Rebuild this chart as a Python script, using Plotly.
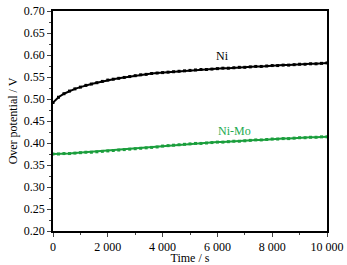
import plotly.graph_objects as go

time_s = list(range(0, 10001, 200))
ni = [0.492, 0.504, 0.512, 0.518, 0.523, 0.527, 0.531, 0.534, 0.537, 0.540,
      0.543, 0.545, 0.547, 0.549, 0.551, 0.553, 0.555, 0.556, 0.558, 0.559,
      0.560, 0.561, 0.562, 0.563, 0.564, 0.565, 0.566, 0.567, 0.567, 0.568,
      0.569, 0.570, 0.570, 0.571, 0.572, 0.572, 0.573, 0.574, 0.574, 0.575,
      0.576, 0.576, 0.577, 0.577, 0.578, 0.579, 0.579, 0.580, 0.580, 0.581,
      0.582]
ni_mo = [0.375, 0.375, 0.376, 0.376, 0.377, 0.378, 0.379, 0.379, 0.380, 0.381,
         0.382, 0.383, 0.384, 0.385, 0.386, 0.387, 0.388, 0.389, 0.390, 0.391,
         0.393, 0.394, 0.395, 0.396, 0.397, 0.398, 0.399, 0.399, 0.400, 0.401,
         0.402, 0.402, 0.403, 0.404, 0.404, 0.405, 0.406, 0.407, 0.407, 0.408,
         0.409, 0.409, 0.410, 0.410, 0.411, 0.412, 0.412, 0.413, 0.413, 0.414,
         0.414]
x_tickvals = [0, 2000, 4000, 6000, 8000, 10000]
x_ticktext = ["0", "2 000", "4 000", "6 000", "8 000", "10 000"]
y_tickvals = [0.20, 0.25, 0.30, 0.35, 0.40, 0.45, 0.50, 0.55, 0.60, 0.65, 0.70]
y_ticktext = ["0.20", "0.25", "0.30", "0.35", "0.40", "0.45", "0.50", "0.55", "0.60", "0.65", "0.70"]

font = "Liberation Serif"
green = "#1a9e3c"

fig = go.Figure()
fig.add_trace(go.Scatter(x=time_s, y=ni, mode="lines+markers",
                         line=dict(color="black", width=2),
                         marker=dict(symbol="square", size=3, color="black"),
                         showlegend=False, cliponaxis=False))
fig.add_trace(go.Scatter(x=time_s, y=ni_mo, mode="lines+markers",
                         line=dict(color=green, width=2),
                         marker=dict(symbol="square", size=3, color=green),
                         showlegend=False, cliponaxis=False))
fig.add_annotation(x=6200, y=0.597, text="Ni", showarrow=False,
                   font=dict(family=font, size=12, color="black"))
fig.add_annotation(x=6620, y=0.428, text="Ni-Mo", showarrow=False,
                   font=dict(family=font, size=12, color="#22aa50"))

fig.update_layout(
    width=347, height=265,
    margin=dict(l=53, r=20, t=11, b=34, autoexpand=False),
    paper_bgcolor="white", plot_bgcolor="white",
    font=dict(family=font, size=12, color="black"),
)
fig.update_xaxes(range=[0, 10000], tickvals=x_tickvals, ticktext=x_ticktext,
                 automargin=False, ticklabeloverflow="allow",
                 showgrid=False, zeroline=False, showline=True, linecolor="black",
                 linewidth=1.5, mirror=True, ticks="outside", ticklen=4, tickwidth=1.2,
                 minor=dict(ticks="outside", ticklen=2, tickwidth=1.2, dtick=1000),
                 title=dict(text="Time / s", standoff=0, font=dict(size=12)))
fig.update_yaxes(range=[0.20, 0.70], tickvals=y_tickvals, ticktext=y_ticktext,
                 automargin=False, ticklabeloverflow="allow",
                 showgrid=False, zeroline=False, showline=True, linecolor="black",
                 linewidth=1.5, mirror=True, ticks="outside", ticklen=4, tickwidth=1.2,
                 minor=dict(ticks="outside", ticklen=2, tickwidth=1.2, dtick=0.025),
                 title=dict(text="Over potential / V", standoff=4, font=dict(size=12)))

fig.write_html("out.html", config={"displayModeBar": False},
               post_script="document.body.style.margin='0';document.body.style.overflow='hidden';")
